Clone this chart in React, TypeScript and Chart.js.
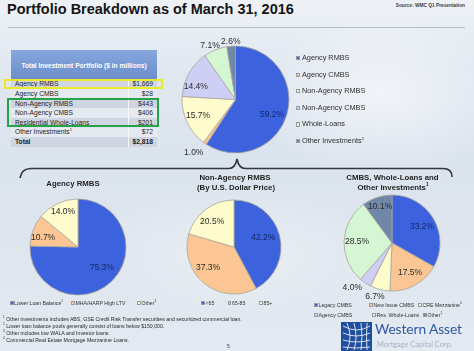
import React, { useEffect, useRef } from 'react';
import { Chart, registerables } from 'chart.js';

Chart.register(...registerables);

// ---------- data ----------
const tableRows = ['Agency RMBS', 'Agency CMBS', 'Non-Agency RMBS', 'Non-Agency CMBS', 'Residential Whole-Loans', 'Other Investments'];
const tableValues = ['$1,669', '$28', '$443', '$406', '$201', '$72'];
const tableTotal = '$2,818';

const mainLabels = ['Agency RMBS', 'Agency CMBS', 'Non-Agency RMBS', 'Non-Agency CMBS', 'Whole-Loans', 'Other Investments'];
const mainValues = [59.2, 1.0, 15.7, 14.4, 7.1, 2.6];

const agencyLabels = ['Lower Loan Balance', 'MHA/HARP High LTV', 'Other'];
const agencyValues = [75.3, 10.7, 14.0];

const nonAgencyLabels = ['<65', '65-85', '85+'];
const nonAgencyValues = [42.2, 37.3, 20.5];

const cmbsLabels = ['Legacy CMBS', 'New Issue CMBS', 'CRE Mezzanine', 'Agency CMBS', 'Res. Whole-Loans', 'Other'];
const cmbsValues = [33.2, 17.5, 6.7, 4.0, 28.5, 10.1];

const footnotes = [
  ['1', 'Other investments includes ABS, GSE Credit Risk Transfer securities and securitized commercial loan.'],
  ['2', 'Lower loan balance pools generally consist of loans below $150,000.'],
  ['3', 'Other includes low WALA and Investor loans.'],
  ['4', 'Commercial Real Estate Mortgage Mezzanine Loans.'],
];

// ---------- style ----------
const FONT = '"Liberation Sans", Arial, Helvetica, sans-serif';
const BLUE = '#3c62de';
const ORANGE = '#fcc594';
const YELLOW = '#fefbcd';
const LAVENDER = '#cfcff5';
const GREEN = '#d5f6d3';
const SLATE = '#7088a7';

const mainColors = [BLUE, ORANGE, YELLOW, LAVENDER, GREEN, SLATE];
const threeColors = [BLUE, ORANGE, YELLOW];
const cmbsColors = [BLUE, ORANGE, YELLOW, LAVENDER, GREEN, SLATE];

const sliceLabelPlugin = {
  id: 'sliceLabels',
  afterDatasetsDraw(chart: any, _args: any, opts: any) {
    const { ctx } = chart;
    const meta = chart.getDatasetMeta(0);
    const values = chart.data.datasets[0].data;
    const factors = opts.factors || [];
    const shifts = opts.shifts || [];
    ctx.save();
    ctx.font = `${opts.size || 8.5}px ${FONT}`;
    ctx.textAlign = 'center';
    ctx.textBaseline = 'middle';
    meta.data.forEach((arc: any, i: number) => {
      const p = arc.getProps(['x', 'y', 'startAngle', 'endAngle', 'outerRadius'], true);
      const mid = (p.startAngle + p.endAngle) / 2 + ((shifts[i] || 0) * Math.PI) / 180;
      const r = p.outerRadius * (factors[i] ?? 0.65);
      ctx.fillStyle = (opts.textColors && opts.textColors[i]) || '#2a2a2a';
      ctx.fillText(Number(values[i]).toFixed(1) + '%', p.x + Math.cos(mid) * r, p.y + Math.sin(mid) * r);
    });
    ctx.restore();
  },
};

type PieProps = {
  cx: number; cy: number; r: number;
  labels: string[]; values: number[]; colors: string[];
  factors: number[]; shifts?: number[]; textColors?: string[];
};

function PieChart({ cx, cy, r, labels, values, colors, factors, shifts, textColors }: PieProps) {
  const ref = useRef<HTMLCanvasElement | null>(null);
  const S = Math.round(2 * (r + 26));
  useEffect(() => {
    if (!ref.current) return;
    const chart = new Chart(ref.current, {
      type: 'pie',
      data: {
        labels,
        datasets: [{
          data: values,
          backgroundColor: colors,
          borderColor: '#a8a49a',
          borderWidth: 0.8,
          radius: r,
        } as any],
      },
      options: {
        responsive: false,
        animation: false,
        radius: r,
        events: [],
        layout: { padding: 0 },
        plugins: {
          legend: { display: false },
          tooltip: { enabled: false },
          sliceLabels: { factors, shifts, textColors, size: 8.5 },
        },
      } as any,
      plugins: [sliceLabelPlugin as any],
    });
    return () => chart.destroy();
  }, []);
  return (
    <canvas
      ref={ref}
      width={S}
      height={S}
      style={{ position: 'absolute', left: cx - S / 2, top: cy - S / 2, width: S, height: S }}
    />
  );
}

function T({ x, y, size, children, bold, color, align, w, style }: any) {
  const base: any = {
    position: 'absolute',
    top: y - size * 0.59,
    fontSize: size,
    lineHeight: `${size * 1.2}px`,
    fontFamily: FONT,
    fontWeight: bold ? 'bold' : 'normal',
    color: color || '#222',
    whiteSpace: 'nowrap',
  };
  if (align === 'center') {
    base.left = x - (w || 200) / 2;
    base.width = w || 200;
    base.textAlign = 'center';
  } else if (align === 'right') {
    base.left = x - (w || 200);
    base.width = w || 200;
    base.textAlign = 'right';
  } else {
    base.left = x;
  }
  return <div style={{ ...base, ...style }}>{children}</div>;
}

function Marker({ x, y, color, size }: any) {
  const s = size || 4;
  return (
    <div style={{
      position: 'absolute', left: x, top: y - s / 2, width: s, height: s,
      background: color, border: '0.5px solid #9a9a9a', boxSizing: 'border-box',
    }} />
  );
}

const Sup = ({ children }: any) => <sup style={{ fontSize: '0.6em', verticalAlign: 'super', lineHeight: 0 }}>{children}</sup>;

const LG = 5.2;

export default function App() {
  const rowY = (i: number) => 84.3 + 9.6 * i;
  const legendY = (i: number) => 58.3 + 16.55 * i;

  return (
    <div style={{
      position: 'absolute', left: 0, top: 0, width: 474, height: 351, overflow: 'hidden',
      background: 'linear-gradient(180deg, #eef2f6 0%, #e1e8f0 18%, #dbe3ed 45%, #dfe6ee 75%, #e4eaf1 100%)',
      fontFamily: FONT,
    }}>
      {/* soft highlight */}
      <div style={{ position: 'absolute', left: 250, top: 10, width: 260, height: 170, background: 'radial-gradient(ellipse at center, rgba(255,255,255,0.55) 0%, rgba(255,255,255,0) 70%)' }} />
      <div style={{ position: 'absolute', left: 80, top: 185, width: 320, height: 130, background: 'radial-gradient(ellipse at center, rgba(255,255,255,0.35) 0%, rgba(255,255,255,0) 70%)' }} />

      {/* title */}
      <T x={7} y={9.5} size={14.5} bold color="#151515">Portfolio Breakdown as of March 31, 2016</T>
      <T x={465} y={5.5} size={4.8} bold color="#3a3f48" align="right" w={120}>Source: WMC Q1 Presentation</T>
      <div style={{ position: 'absolute', left: 8, top: 26.5, width: 457, height: 1, background: 'rgba(120,135,155,0.45)' }} />

      {/* table */}
      <div style={{ position: 'absolute', left: 11, top: 50, width: 146, height: 29, background: 'linear-gradient(180deg, #86a6dc 0%, #6b8ecb 100%)' }} />
      <T x={84} y={65.5} size={6.6} bold color="#ffffff" align="center" w={146}>Total Investment Portfolio ($ in millions)</T>
      {[...tableRows, 'Total'].map((_, i) => (
        <div key={'bg' + i} style={{
          position: 'absolute', left: 11, top: rowY(i) - 4.8, width: 146, height: 9.6,
          background: i % 2 === 0 ? '#cfd6e2' : '#e5e9f0',
        }} />
      ))}
      <div style={{ position: 'absolute', left: 127.5, top: 79.5, width: 1, height: 67, background: '#f4f6f9' }} />
      {tableRows.map((name, i) => (
        <React.Fragment key={name}>
          <T x={15} y={rowY(i)} size={6.7} color="#262626">
            {name}{name === 'Other Investments' ? <Sup>1</Sup> : null}
          </T>
          <T x={153} y={rowY(i)} size={6.7} color="#262626" align="right" w={40}>{tableValues[i]}</T>
        </React.Fragment>
      ))}
      <T x={15} y={rowY(6)} size={6.7} bold color="#222">Total</T>
      <T x={153} y={rowY(6)} size={6.7} bold color="#222" align="right" w={40}>{tableTotal}</T>
      <div style={{ position: 'absolute', left: 4, top: 79.3, width: 159, height: 10.2, border: '2px solid #eaea2a', boxSizing: 'border-box' }} />
      <div style={{ position: 'absolute', left: 7, top: 98.3, width: 152, height: 29, border: '2px solid #26a348', boxSizing: 'border-box' }} />

      {/* main pie */}
      <PieChart cx={235} cy={99} r={53.5} labels={mainLabels} values={mainValues} colors={mainColors}
        factors={[0.74, 1.27, 0.76, 0.78, 1.12, 1.08]} shifts={[6, 3, 2, -11, -3, 0]}
        textColors={['#142a66', '#2a2a2a', '#2a2a2a', '#2a2a2a', '#2a2a2a', '#2a2a2a']} />
      {mainLabels.map((name, i) => (
        <React.Fragment key={name}>
          <Marker x={296} y={legendY(i)} color={mainColors[i]} size={4.2} />
          <T x={302} y={legendY(i)} size={7.3} color="#2f2f2f">
            {name}{name === 'Other Investments' ? <Sup>1</Sup> : null}
          </T>
        </React.Fragment>
      ))}

      {/* brace */}
      <svg width={474} height={351} style={{ position: 'absolute', left: 0, top: 0 }}>
        <path d="M 20 178 C 21 172, 24 168.5, 31 168.5 L 229 168.5 C 234 168.5, 236 164, 237 159 C 238 164, 240 168.5, 245 168.5 L 443 168.5 C 450 168.5, 452 172, 452 177"
          fill="none" stroke="#34373c" strokeWidth={1.6} />
      </svg>

      {/* section titles */}
      <T x={73} y={184} size={7.8} bold color="#1f1f1f" align="center" w={120}>Agency RMBS</T>
      <T x={235} y={178} size={7.8} bold color="#1f1f1f" align="center" w={140}>Non-Agency RMBS</T>
      <T x={236} y={188} size={7.8} bold color="#1f1f1f" align="center" w={140}>(By U.S. Dollar Price)</T>
      <T x={392.5} y={178} size={7.8} bold color="#1f1f1f" align="center" w={140}>CMBS, Whole-Loans and</T>
      <T x={393} y={188} size={7.8} bold color="#1f1f1f" align="center" w={140}>Other Investments<Sup>1</Sup></T>

      {/* bottom pies */}
      <PieChart cx={78} cy={247} r={48} labels={agencyLabels} values={agencyValues} colors={threeColors}
        factors={[0.65, 0.75, 0.79]} shifts={[-5, -6, 2]}
        textColors={['#142a66', '#2a2a2a', '#2a2a2a']} />
      <PieChart cx={234} cy={247} r={47} labels={nonAgencyLabels} values={nonAgencyValues} colors={threeColors}
        factors={[0.65, 0.7, 0.71]} shifts={[-3, 13, -4]}
        textColors={['#142a66', '#2a2a2a', '#2a2a2a']} />
      <PieChart cx={392} cy={243} r={48} labels={cmbsLabels} values={cmbsValues} colors={cmbsColors}
        factors={[0.71, 0.73, 1.18, 1.24, 0.73, 0.79]} shifts={[2, -2, 3, 8, 0, 0]}
        textColors={['#142a66', '#2a2a2a', '#2a2a2a', '#2a2a2a', '#2a2a2a', '#2a2a2a']} />

      {/* bottom legends */}
      <Marker x={10} y={303} color={BLUE} size={3.5} />
      <T x={14} y={303} size={LG} color="#333">{agencyLabels[0]}<Sup>2</Sup></T>
      <Marker x={71} y={303} color={ORANGE} size={3.5} />
      <T x={75.5} y={303} size={LG} color="#333">{agencyLabels[1]}</T>
      <Marker x={137} y={303} color={YELLOW} size={3.5} />
      <T x={141.5} y={303} size={LG} color="#333">{agencyLabels[2]}<Sup>3</Sup></T>

      <Marker x={201} y={303} color={BLUE} size={3.5} />
      <T x={205.5} y={303} size={LG} color="#333">{nonAgencyLabels[0]}</T>
      <Marker x={227.5} y={303} color={ORANGE} size={3.5} />
      <T x={232} y={303} size={LG} color="#333">{nonAgencyLabels[1]}</T>
      <Marker x={259} y={303} color={YELLOW} size={3.5} />
      <T x={263.5} y={303} size={LG} color="#333">{nonAgencyLabels[2]}</T>

      <Marker x={314} y={305} color={BLUE} size={3.5} />
      <T x={318.5} y={305} size={LG} color="#333">{cmbsLabels[0]}</T>
      <Marker x={369} y={305} color={ORANGE} size={3.5} />
      <T x={373.5} y={305} size={LG} color="#333">{cmbsLabels[1]}</T>
      <Marker x={418} y={305} color={YELLOW} size={3.5} />
      <T x={422.5} y={305} size={LG} color="#333">{cmbsLabels[2]}<Sup>4</Sup></T>
      <Marker x={314} y={315} color={LAVENDER} size={3.5} />
      <T x={318.5} y={315} size={LG} color="#333">{cmbsLabels[3]}</T>
      <Marker x={372} y={315} color={GREEN} size={3.5} />
      <T x={376.5} y={315} size={LG} color="#333">{cmbsLabels[4]}</T>
      <Marker x={423} y={315} color={SLATE} size={3.5} />
      <T x={427.5} y={315} size={LG} color="#333">{cmbsLabels[5]}<Sup>1</Sup></T>

      {/* footnotes */}
      {footnotes.map(([n, text], i) => (
        <T key={n} x={3} y={318.8 + 7.1 * i} size={5.2} color="#2a2a2a"><Sup>{n}</Sup> {text}</T>
      ))}
      <T x={227} y={346} size={5} color="#333">5</T>

      {/* logo */}
      <svg width={31} height={29} style={{ position: 'absolute', left: 341, top: 322 }}>
        <rect x={0} y={0} width={31} height={29} fill="#1f4f9e" />
        <g fill="none" stroke="#ffffff" strokeWidth={0.9} opacity={0.9}>
          <path d="M 2 4 Q 15.5 12 29 4" />
          <path d="M 2 11 Q 15.5 17 29 11" />
          <path d="M 2 18 Q 15.5 22 29 18" />
          <path d="M 2 25 Q 15.5 27 29 25" />
          <path d="M 6 1 Q 12 15 6 28" />
          <path d="M 13 1 Q 17 15 13 28" />
          <path d="M 20 1 Q 22 15 20 28" />
          <path d="M 26 1 Q 25 15 26 28" />
        </g>
      </svg>
      <div style={{ position: 'absolute', left: 375, top: 321, fontFamily: 'Lato, "Open Sans", sans-serif', fontSize: 13.8, lineHeight: '16px', color: '#2d57a6', letterSpacing: -0.1, whiteSpace: 'nowrap' }}>Western Asset</div>
      <div style={{ position: 'absolute', left: 377, top: 339.5, fontFamily: 'Lato, "Open Sans", sans-serif', fontSize: 7.4, lineHeight: '10px', color: '#a4b0c4', whiteSpace: 'nowrap' }}>Mortgage Capital Corp.</div>
    </div>
  );
}
